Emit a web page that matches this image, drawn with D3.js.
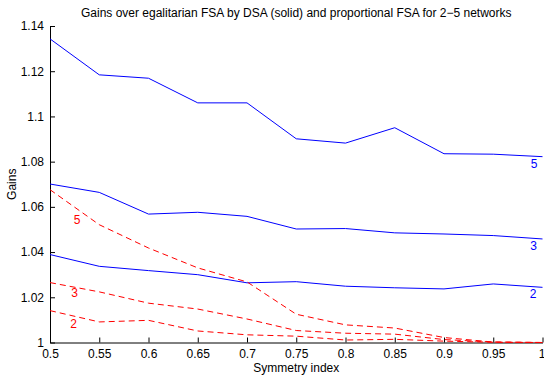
<!DOCTYPE html>
<html>
<head>
<meta charset="utf-8">
<script src="https://cdn.jsdelivr.net/npm/d3@7"></script>
<style>
  body { margin: 0; background: #fff; }
  svg { font-family: 'Liberation Sans', Arial, Helvetica, sans-serif; }
  .axis path, .axis line { stroke: #000; }
  .axis text { font-size: 12px; fill: #000; }
</style>
</head>
<body>
<div id="chart"></div>
<script>
// data
const symmetry = [0.5, 0.55, 0.6, 0.65, 0.7, 0.75, 0.8, 0.85, 0.9, 0.95, 1]
const dsa5 = [1.1343, 1.1184, 1.1169, 1.1060, 1.1060, 1.0901, 1.0882, 1.0950, 1.0835, 1.0833, 1.0822]
const dsa3 = [1.0701, 1.0664, 1.0568, 1.0576, 1.0558, 1.0502, 1.0504, 1.0485, 1.0480, 1.0473, 1.0458]
const dsa2 = [1.0389, 1.0337, 1.0318, 1.0300, 1.0264, 1.0269, 1.0249, 1.0242, 1.0237, 1.0259, 1.0244]
const fsa5 = [1.0676, 1.0521, 1.0418, 1.0330, 1.0268, 1.0125, 1.0078, 1.0064, 1.0022, 1.0002, 1.0000]
const fsa3 = [1.0265, 1.0224, 1.0174, 1.0148, 1.0104, 1.0053, 1.0041, 1.0037, 1.0013, 1.0002, 1.0000]
const fsa2 = [1.0141, 1.0091, 1.0098, 1.0051, 1.0034, 1.0028, 1.0011, 1.0014, 1.0006, 1.0001, 1.0000]
const yTicks = [1, 1.02, 1.04, 1.06, 1.08, 1.1, 1.12, 1.14]
const xTicks = [0.5, 0.55, 0.6, 0.65, 0.7, 0.75, 0.8, 0.85, 0.9, 0.95, 1]

// label offsets (px) relative to the line point they sit by
const series = [
    { name: '5', values: dsa5, color: '#0000ff', dash: null, at: 10, dx: -8.5, dy: 11 },
    { name: '3', values: dsa3, color: '#0000ff', dash: null, at: 10, dx: -9, dy: 11 },
    { name: '2', values: dsa2, color: '#0000ff', dash: null, at: 10, dx: -9.5, dy: 11 },
    { name: '5', values: fsa5, color: '#ff0000', dash: '6,4', at: 0, dx: 27, dy: 34 },
    { name: '3', values: fsa3, color: '#ff0000', dash: '6,4', at: 0, dx: 24.5, dy: 14 },
    { name: '2', values: fsa2, color: '#ff0000', dash: '6,4', at: 0, dx: 23.5, dy: 17 }
]

const width = 544, height = 376
const margin = { top: 26, right: 1.5, bottom: 33.5, left: 50 }

const svg = d3.select('#chart').append('svg')
    .attr('width', width)
    .attr('height', height)

const x = d3.scaleLinear().domain([0.5, 1]).range([margin.left, width - margin.right])
const y = d3.scaleLinear().domain([1, 1.14]).range([height - margin.bottom, margin.top])

const fmt = d => d3.format('')(+d.toFixed(2))

const xAxis = svg.append('g')
    .attr('class', 'axis')
    .attr('transform', `translate(0,${height - margin.bottom})`)
    .call(d3.axisBottom(x).tickValues(xTicks).tickFormat(fmt).tickSizeInner(-5).tickSizeOuter(0).tickPadding(7))
xAxis.selectAll('.tick:last-of-type text').attr('dx', -1)

svg.append('g')
    .attr('class', 'axis')
    .attr('transform', `translate(${margin.left},0)`)
    .call(d3.axisLeft(y).tickValues(yTicks).tickFormat(fmt).tickSizeInner(-5).tickSizeOuter(0).tickPadding(6))

const line = d3.line()
    .x((d, i) => x(symmetry[i]))
    .y(d => y(d))

svg.append('g').selectAll('path')
    .data(series)
    .enter()
    .append('path')
        .attr('d', d => line(d.values))
        .attr('fill', 'none')
        .attr('stroke', d => d.color)
        .attr('stroke-width', 1)
        .attr('stroke-dasharray', d => d.dash)

// series labels: blue at the right end, red near the left
svg.append('g').selectAll('text')
    .data(series)
    .enter()
    .append('text')
        .attr('x', d => x(symmetry[d.at]) + d.dx)
        .attr('y', d => y(d.values[d.at]) + d.dy)
        .attr('text-anchor', 'middle')
        .attr('font-size', 12)
        .attr('fill', d => d.color)
        .text(d => d.name)

svg.append('text')
    .attr('x', (margin.left + width - margin.right) / 2)
    .attr('y', 17)
    .attr('text-anchor', 'middle')
    .attr('font-size', 12)
    .text('Gains over egalitarian FSA by DSA (solid) and proportional FSA for 2\u22125 networks')

svg.append('text')
    .attr('x', (margin.left + width - margin.right) / 2)
    .attr('y', 372)
    .attr('text-anchor', 'middle')
    .attr('font-size', 12)
    .text('Symmetry index')

svg.append('text')
    .attr('transform', `translate(16,${(margin.top + height - margin.bottom) / 2}) rotate(-90)`)
    .attr('text-anchor', 'middle')
    .attr('font-size', 12)
    .text('Gains')
</script>
</body>
</html>
